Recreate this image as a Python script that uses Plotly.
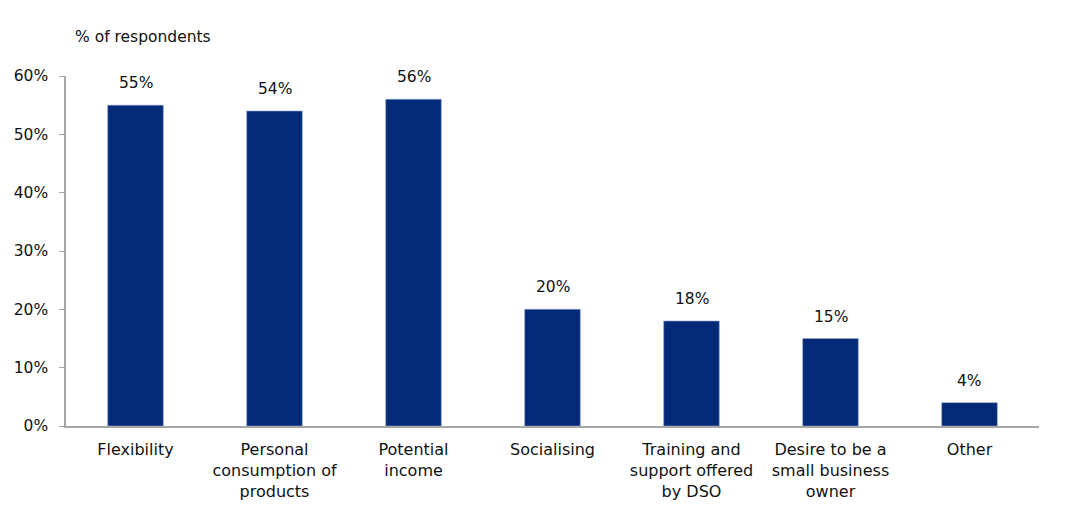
import plotly.graph_objects as go

# Reasons for joining, share of respondents
categories = [
    "Flexibility",
    "Personal<br>consumption of<br>products",
    "Potential<br>income",
    "Socialising",
    "Training and<br>support offered<br>by DSO",
    "Desire to be a<br>small business<br>owner",
    "Other",
]
values = [55, 54, 56, 20, 18, 15, 4]
y_ticks = [0, 10, 20, 30, 40, 50, 60]
y_tick_labels = ["0%", "10%", "20%", "30%", "40%", "50%", "60%"]

FONT = "DejaVu Sans"
AXIS_GREY = "#a6a6a6"
TEXT = "#111111"

fig = go.Figure(
    go.Bar(
        x=categories,
        y=values,
        marker=dict(color="#022a78", line=dict(color="#8ea3cc", width=0.6)),
    )
)

# value labels sit a little higher above each bar
value_labels = [
    dict(
        x=c, y=v, xref="x", yref="y",
        text=f"{v}%",
        showarrow=False,
        xanchor="center", yanchor="bottom",
        yshift=11,
        font=dict(family=FONT, size=15.5, color=TEXT),
    )
    for c, v in zip(categories, values)
]

fig.update_layout(
    width=1079,
    height=532,
    margin=dict(l=66, r=40, t=76, b=106),
    paper_bgcolor="white",
    plot_bgcolor="white",
    bargap=0.6,
    showlegend=False,
    font=dict(family=FONT, size=16, color=TEXT),
    annotations=value_labels + [
        dict(
            text="% of respondents",
            xref="paper", yref="paper",
            x=0.007, y=1.0, yshift=39,
            xanchor="left", yanchor="middle",
            showarrow=False,
            font=dict(family=FONT, size=15.5, color=TEXT),
        )
    ],
)

fig.update_xaxes(
    showline=True,
    linecolor=AXIS_GREY,
    linewidth=1.5,
    showgrid=False,
    ticks="",
    tickangle=0,
    tickfont=dict(family=FONT, size=16, color=TEXT),
    ticklabelstandoff=8,
)

fig.update_yaxes(
    range=[0, 60],
    tickvals=y_ticks,
    ticktext=y_tick_labels,
    showline=True,
    linecolor=AXIS_GREY,
    linewidth=1.5,
    showgrid=False,
    zeroline=False,
    ticks="outside",
    ticklen=5,
    tickcolor=AXIS_GREY,
    tickfont=dict(family=FONT, size=15.5, color=TEXT),
    ticklabelstandoff=8,
)

fig.write_html("out.html")
